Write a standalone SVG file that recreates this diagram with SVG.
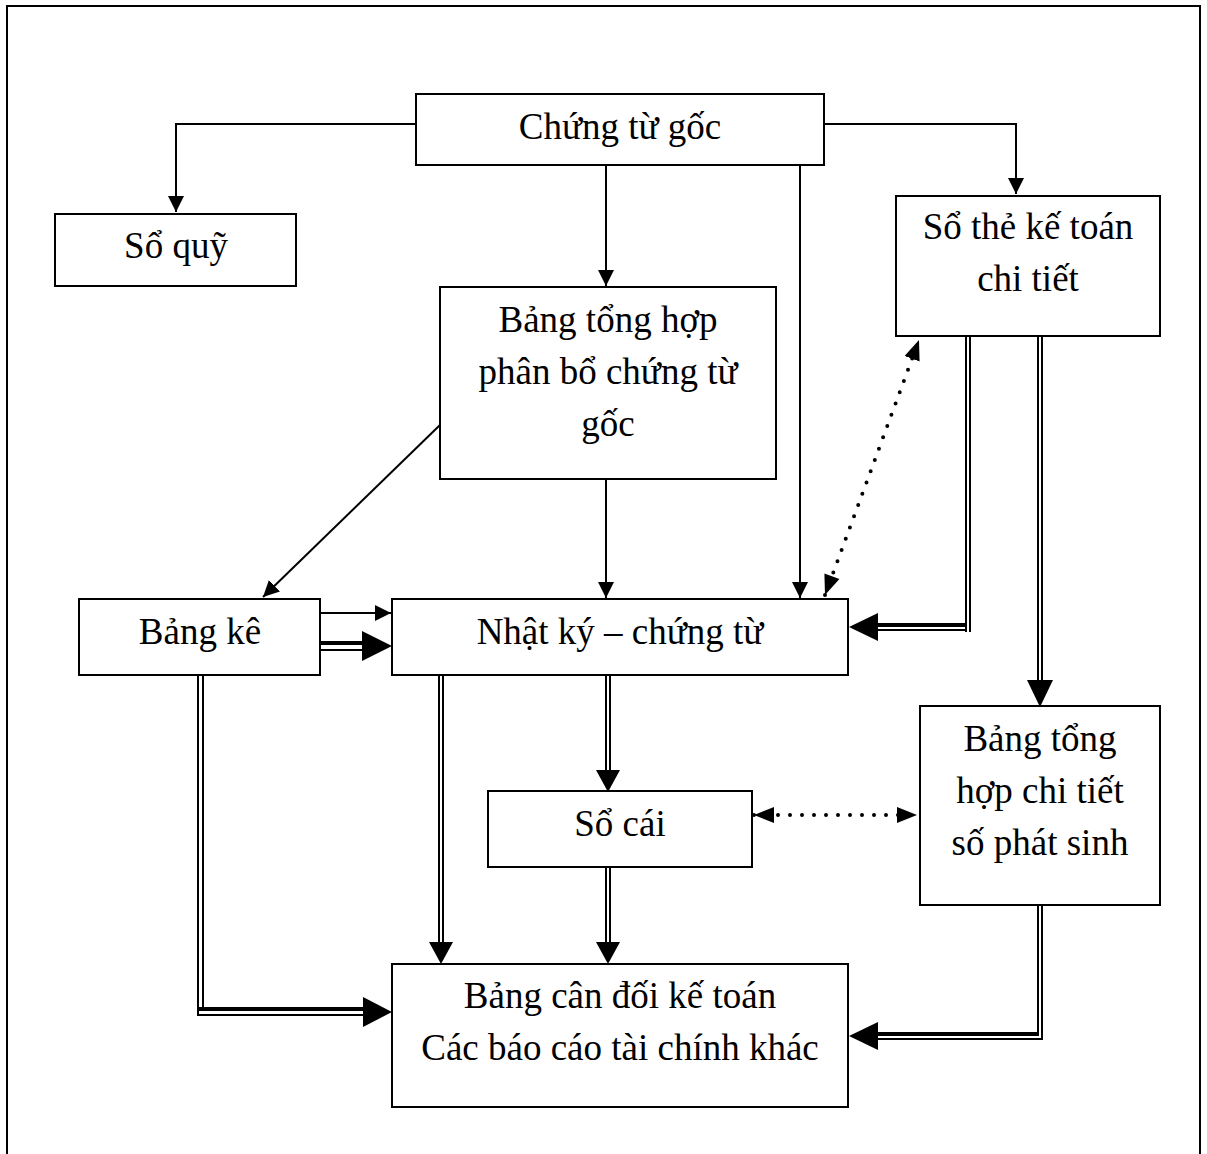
<svg xmlns="http://www.w3.org/2000/svg" width="1207" height="1154" viewBox="0 0 1207 1154">
<defs>
<style>
.box{fill:#fff;stroke:#000;stroke-width:2}
.t{font-family:"Liberation Serif","Times New Roman",serif;font-size:37px;fill:#000;text-anchor:middle}
.ln{fill:none;stroke:#000;stroke-width:2}
.thk{fill:none;stroke:#000;stroke-width:4}
.dot{fill:none;stroke:#000;stroke-width:4;stroke-linecap:round;stroke-dasharray:0 12}
.hd{fill:#000;stroke:none}
</style>
<marker id="arr" markerUnits="userSpaceOnUse" markerWidth="18" markerHeight="18" refX="16" refY="8" orient="auto"><path d="M0,0 L16,8 L0,16 Z" fill="#000"/></marker>
<marker id="arrDot" markerUnits="userSpaceOnUse" markerWidth="22" markerHeight="18" refX="20" refY="8" orient="auto"><path d="M0,0 L20,8 L0,16 Z" fill="#000"/></marker>
<marker id="arrDotS" markerUnits="userSpaceOnUse" markerWidth="22" markerHeight="18" refX="0" refY="8" orient="auto"><path d="M20,0 L0,8 L20,16 Z" fill="#000"/></marker>
</defs>
<rect width="1207" height="1154" fill="#fff"/>
<path d="M7,1154 V6 H1200 V1154" fill="none" stroke="#000" stroke-width="2"/>

<g id="connectors">
<path class="ln" d="M416,124 H176 V212" marker-end="url(#arr)"/>
<path class="ln" d="M824,124 H1016 V194" marker-end="url(#arr)"/>
<path class="ln" d="M606,165 V286" marker-end="url(#arr)"/>
<path class="ln" d="M800,165 V598" marker-end="url(#arr)"/>
<path class="ln" d="M606,479 V598" marker-end="url(#arr)"/>
<path class="ln" d="M440,425 L263,597" marker-end="url(#arr)"/>
<path class="ln" d="M320,613 H391" marker-end="url(#arr)"/>
<g id="bk-nk-double"><path class="thk" d="M320,643 H364"/><path class="ln" d="M320,650 H364"/><path class="hd" d="M392,646 L362,631 L362,661 Z"/></g>
<path class="dot" d="M825,595 L919,340" marker-start="url(#arrDotS)" marker-end="url(#arrDot)"/>
<path class="dot" d="M754,815 L917,815" marker-start="url(#arrDotS)" marker-end="url(#arrDot)"/>
<g id="st-nk-double"><path class="ln" d="M966,336 V632"/><path class="ln" d="M970,336 V632"/><path class="thk" d="M876,625 H967"/><path class="ln" d="M876,630 H966"/><path class="hd" d="M849,627 L878,613 L878,641 Z"/></g>
<g id="st-th-double"><path class="ln" d="M1038,336 V684"/><path class="ln" d="M1042,336 V684"/><path class="hd" d="M1040,707 L1027,680 L1053,680 Z"/></g>
<g id="nk-sc-double"><path class="ln" d="M606,675 V774"/><path class="ln" d="M610,675 V774"/><path class="hd" d="M608,792 L596,770 L620,770 Z"/></g>
<g id="sc-cd-double"><path class="ln" d="M606,867 V944"/><path class="ln" d="M610,867 V944"/><path class="hd" d="M608,964 L596,942 L620,942 Z"/></g>
<g id="nk-cd-double"><path class="ln" d="M439,675 V944"/><path class="ln" d="M443,675 V944"/><path class="hd" d="M441,964 L429,942 L453,942 Z"/></g>
<g id="bk-cd-double"><path class="ln" d="M198,675 V1016"/><path class="ln" d="M203,675 V1008"/><path class="thk" d="M198,1009 H366"/><path class="ln" d="M198,1015 H366"/><path class="hd" d="M392,1012 L363,997 L363,1027 Z"/></g>
<g id="th-cd-double"><path class="ln" d="M1038,905 V1033"/><path class="ln" d="M1042,905 V1040"/><path class="thk" d="M876,1034 H1039"/><path class="ln" d="M876,1039 H1042"/><path class="hd" d="M849,1036 L878,1022 L878,1050 Z"/></g>
</g>

<g id="n-chungtugoc"><rect class="box" x="416" y="94" width="408" height="71"/><text class="t" x="620" y="139">Chứng từ gốc</text></g>
<g id="n-soquy"><rect class="box" x="55" y="214" width="241" height="72"/><text class="t" x="176" y="258">Sổ quỹ</text></g>
<g id="n-sothe"><rect class="box" x="896" y="196" width="264" height="140"/><text class="t" x="1028" y="239">Sổ thẻ kế toán</text><text class="t" x="1028" y="291">chi tiết</text></g>
<g id="n-bangtonghop"><rect class="box" x="440" y="287" width="336" height="192"/><text class="t" x="608" y="332">Bảng tổng hợp</text><text class="t" x="608" y="384">phân bổ chứng từ</text><text class="t" x="608" y="436">gốc</text></g>
<g id="n-bangke"><rect class="box" x="79" y="599" width="241" height="76"/><text class="t" x="200" y="644">Bảng kê</text></g>
<g id="n-nhatky"><rect class="box" x="392" y="599" width="456" height="76"/><text class="t" x="620" y="644">Nhật ký – chứng từ</text></g>
<g id="n-socai"><rect class="box" x="488" y="791" width="264" height="76"/><text class="t" x="620" y="836">Sổ cái</text></g>
<g id="n-tonghopchitiet"><rect class="box" x="920" y="706" width="240" height="199"/><text class="t" x="1040" y="751">Bảng tổng</text><text class="t" x="1040" y="803">hợp chi tiết</text><text class="t" x="1040" y="855">số phát sinh</text></g>
<g id="n-candoi"><rect class="box" x="392" y="964" width="456" height="143"/><text class="t" x="620" y="1008">Bảng cân đối kế toán</text><text class="t" x="620" y="1060">Các báo cáo tài chính khác</text></g>
</svg>
